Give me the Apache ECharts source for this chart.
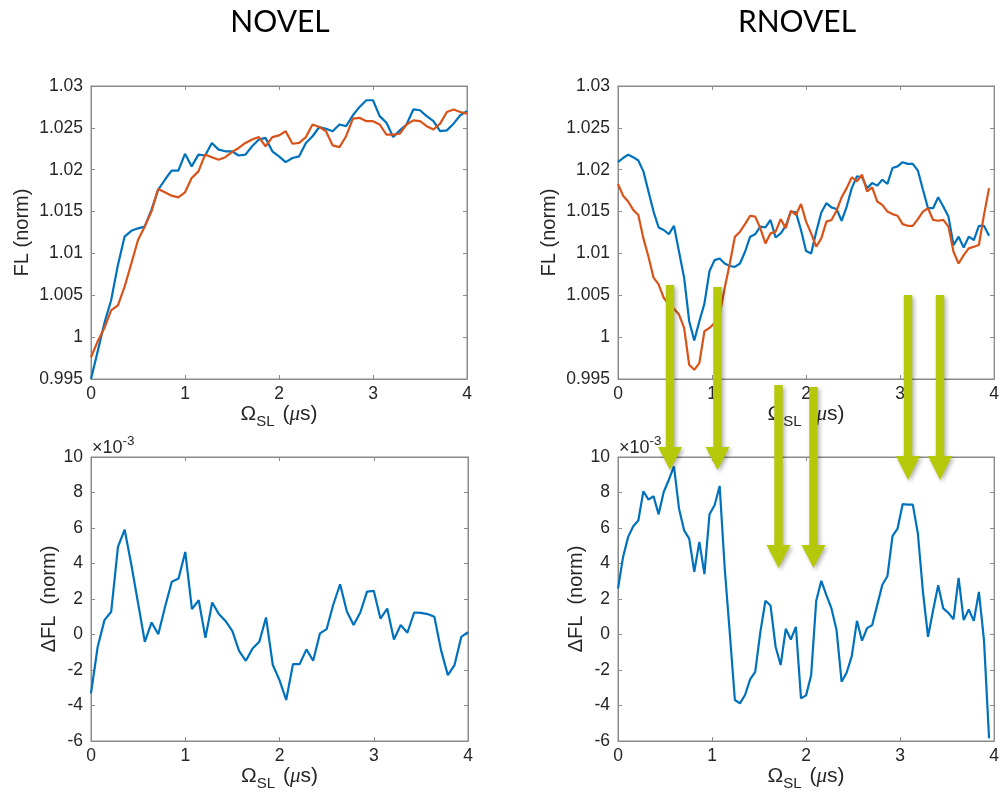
<!DOCTYPE html>
<html><head><meta charset="utf-8">
<script src="https://cdn.jsdelivr.net/npm/echarts@6/dist/echarts.min.js"></script>
<style>html,body{margin:0;padding:0;background:#fff}#c{width:1002px;height:794px}</style>
</head><body><div id="c"></div><script>
// ---- data ----
const titles = ['NOVEL', 'RNOVEL'];
const xNovel = [0,0.071,0.143,0.214,0.286,0.357,0.429,0.5,0.571,0.643,0.714,0.786,0.857,0.929,1,1.071,1.143,1.214,1.286,1.357,1.429,1.5,1.571,1.643,1.714,1.786,1.857,1.929,2,2.071,2.143,2.214,2.286,2.357,2.429,2.5,2.571,2.643,2.714,2.786,2.857,2.929,3,3.071,3.143,3.214,3.286,3.357,3.429,3.5,3.571,3.643,3.714,3.786,3.857,3.929,4];
const xRnovel = [0,0.054,0.108,0.162,0.216,0.270,0.324,0.378,0.432,0.486,0.541,0.595,0.649,0.703,0.757,0.811,0.865,0.919,0.973,1.027,1.081,1.135,1.189,1.243,1.297,1.351,1.405,1.459,1.514,1.568,1.622,1.676,1.730,1.784,1.838,1.892,1.946,2.000,2.054,2.108,2.162,2.216,2.270,2.324,2.378,2.432,2.486,2.541,2.595,2.649,2.703,2.757,2.811,2.865,2.919,2.973,3.027,3.081,3.135,3.189,3.243,3.297,3.351,3.405,3.459,3.514,3.568,3.622,3.676,3.730,3.784,3.838,3.892,3.946];
const novelBlue = [0.9950,0.9983,1.0017,1.0044,1.0086,1.0120,1.0127,1.0130,1.0132,1.0152,1.0176,1.0188,1.0199,1.0199,1.0219,1.0204,1.0218,1.0217,1.0232,1.0224,1.0222,1.0222,1.0217,1.0218,1.0228,1.0236,1.0238,1.0222,1.0216,1.0209,1.0214,1.0216,1.0232,1.0240,1.0251,1.0249,1.0246,1.0254,1.0252,1.0265,1.0275,1.0283,1.0283,1.0264,1.0256,1.0239,1.0247,1.0254,1.0272,1.0271,1.0264,1.0258,1.0246,1.0247,1.0255,1.0265,1.0270];
const novelOrange = [0.9976,0.9995,1.0011,1.0032,1.0038,1.0060,1.0088,1.0116,1.0132,1.0150,1.0177,1.0173,1.0169,1.0167,1.0173,1.0190,1.0198,1.0218,1.0215,1.0212,1.0215,1.0221,1.0226,1.0232,1.0236,1.0239,1.0228,1.0239,1.0241,1.0246,1.0231,1.0232,1.0239,1.0254,1.0251,1.0246,1.0229,1.0227,1.0240,1.0261,1.0262,1.0258,1.0258,1.0254,1.0242,1.0242,1.0243,1.0254,1.0259,1.0258,1.0252,1.0248,1.0255,1.0269,1.0272,1.0269,1.0267];
const novelDelta = [-3.32,-0.69,0.81,1.28,4.94,5.91,3.90,1.75,-0.41,0.68,0.02,1.56,2.97,3.15,4.65,1.43,1.93,-0.19,1.80,1.15,0.75,0.19,-0.92,-1.48,-0.79,-0.41,0.96,-1.72,-2.57,-3.69,-1.67,-1.67,-0.84,-1.48,0.06,0.30,1.69,2.83,1.31,0.53,1.24,2.42,2.46,0.90,1.46,-0.28,0.53,0.10,1.24,1.22,1.15,1.00,-0.88,-2.29,-1.72,-0.13,0.13];
const rnovelBlue = [1.0209,1.0214,1.0218,1.0215,1.0211,1.0198,1.0174,1.0150,1.0131,1.0128,1.0123,1.0133,1.0102,1.0071,1.0019,0.9996,1.0019,1.0040,1.0079,1.0092,1.0094,1.0088,1.0085,1.0084,1.0088,1.0102,1.0120,1.0123,1.0132,1.0131,1.0140,1.0119,1.0124,1.0133,1.0150,1.0149,1.0128,1.0103,1.0100,1.0126,1.0149,1.0160,1.0155,1.0153,1.0139,1.0156,1.0178,1.0192,1.0191,1.0178,1.0184,1.0181,1.0188,1.0183,1.0202,1.0204,1.0209,1.0207,1.0207,1.0199,1.0176,1.0154,1.0154,1.0167,1.0156,1.0144,1.0110,1.0120,1.0107,1.0120,1.0116,1.0133,1.0133,1.0121];
const rnovelOrange = [1.0183,1.0169,1.0162,1.0152,1.0146,1.0118,1.0096,1.0071,1.0063,1.0047,1.0039,1.0034,1.0027,1.0011,0.9967,0.9961,0.9969,1.0007,1.0011,1.0017,1.0027,1.0059,1.0088,1.0120,1.0126,1.0135,1.0145,1.0144,1.0130,1.0112,1.0124,1.0126,1.0141,1.0130,1.0151,1.0146,1.0159,1.0138,1.0124,1.0108,1.0118,1.0138,1.0140,1.0151,1.0167,1.0178,1.0191,1.0186,1.0194,1.0174,1.0179,1.0162,1.0158,1.0150,1.0147,1.0145,1.0135,1.0133,1.0133,1.0141,1.0150,1.0154,1.0140,1.0139,1.0140,1.0132,1.0102,1.0088,1.0098,1.0106,1.0108,1.0110,1.0146,1.0178];
const rnovelDelta = [2.59,4.37,5.50,6.10,6.42,8.07,7.60,7.79,6.77,8.03,8.72,9.47,7.09,5.87,5.40,3.53,5.22,3.40,6.77,7.28,8.37,3.72,0.06,-3.69,-3.88,-3.41,-2.53,-2.10,0.15,1.90,1.63,-0.69,-1.72,0.32,-0.28,0.43,-3.60,-3.43,-2.29,1.90,3.02,2.22,1.47,0.25,-2.66,-2.14,-1.22,0.77,-0.35,0.36,0.53,1.67,2.80,3.28,5.54,5.97,7.34,7.32,7.32,5.69,2.40,-0.13,1.37,2.78,1.47,1.22,0.86,3.19,0.81,1.41,0.77,2.40,-0.32,-5.85];
const flAxis = {min: 0.995, max: 1.03, interval: 0.005};
const deltaAxis = {min: -6, max: 10, interval: 2};
const xAxisRange = {min: 0, max: 4, interval: 1};
const flName = 'FL (norm)';
const deltaName = '\u0394FL  (norm)';
const deltaExp = '-3';

// ---- styles ----
const BLUE = '#0072BD', ORANGE = '#D95319', AX = '#8a8a8a', TXT = '#262626';
const FONT = 'Liberation Sans';
const ARROW = '#b5c80a';

const panels = [
  {grid: {left: 91, top: 86, width: 376, height: 293}, kind: 'fl', x: xNovel, ys: [novelBlue, novelOrange]},
  {grid: {left: 618, top: 86, width: 377, height: 293}, kind: 'fl', x: xRnovel, ys: [rnovelBlue, rnovelOrange]},
  {grid: {left: 91, top: 457, width: 377, height: 284}, kind: 'd', x: xNovel, ys: [novelDelta]},
  {grid: {left: 618, top: 457, width: 377, height: 284}, kind: 'd', x: xRnovel, ys: [rnovelDelta]}
];

const grids = [], xAxes = [], yAxes = [], series = [];
const tick = {show: true, inside: true, length: 4, lineStyle: {color: AX, width: 1}};
const line = {show: true, onZero: false, lineStyle: {color: AX, width: 1}};
const xName = '{o|\u03A9}{s|SL}{p| (}{m|\u03BC}{p|s)}';
const xRich = {
  o: {fontSize: 21, fontFamily: FONT, color: TXT},
  s: {fontSize: 15, fontFamily: FONT, color: TXT, padding: [14, 2, 0, 0]},
  p: {fontSize: 21, fontFamily: FONT, color: TXT},
  m: {fontSize: 21, fontFamily: 'Liberation Serif', fontStyle: 'italic', color: TXT}
};

panels.forEach((p, i) => {
  grids.push(Object.assign({show: true, borderColor: AX, borderWidth: 1, backgroundColor: '#fff'}, p.grid));
  const yr = p.kind === 'fl' ? flAxis : deltaAxis;
  xAxes.push(Object.assign({
    type: 'value', gridIndex: i, position: 'bottom',
    axisLine: line, axisTick: tick, splitLine: {show: false},
    axisLabel: {color: TXT, fontSize: 17.5, fontFamily: FONT, margin: 6},
    name: xName, nameLocation: 'middle', nameGap: 19,
    nameTextStyle: {rich: xRich, color: TXT}
  }, xAxisRange));
  xAxes.push(Object.assign({
    type: 'value', gridIndex: i, position: 'top',
    axisLine: line, axisTick: tick, splitLine: {show: false}, axisLabel: {show: false}
  }, xAxisRange));
  yAxes.push(Object.assign({
    type: 'value', gridIndex: i, position: 'left',
    axisLine: line, axisTick: tick, splitLine: {show: false},
    axisLabel: {color: TXT, fontSize: 17.5, fontFamily: FONT, margin: 8,
      formatter: v => String(+(+v).toFixed(3))},
    name: p.kind === 'fl' ? flName : deltaName, nameLocation: 'middle',
    nameGap: p.kind === 'fl' ? 59 : 29,
    nameTextStyle: {color: TXT, fontSize: 20, fontFamily: FONT}
  }, yr));
  yAxes.push(Object.assign({
    type: 'value', gridIndex: i, position: 'right',
    axisLine: line, axisTick: tick, splitLine: {show: false}, axisLabel: {show: false}
  }, yr));
  p.ys.forEach((arr, k) => {
    series.push({
      type: 'line', xAxisIndex: 2 * i, yAxisIndex: 2 * i,
      data: p.x.map((xv, j) => [xv, arr[j]]),
      showSymbol: false, symbol: 'none', clip: true,
      lineStyle: {width: 2.2, color: k === 0 ? BLUE : ORANGE},
      itemStyle: {color: k === 0 ? BLUE : ORANGE},
      z: 3 + k, animation: false
    });
  });
});

// annotation arrows (pixel positions on the page): centerX, top, headTop, tip
const arrows = [[670, 285, 447, 470], [717.5, 287, 447, 470], [778.5, 385, 545, 568],
                [813.5, 387, 545, 568], [908, 295, 456, 480], [940, 295, 456, 480]];
const graphics = [];
arrows.forEach(a => {
  const [cx, t, h, tip] = a, sw = 4.2, hw = 12;
  graphics.push({
    type: 'polygon', z: 100,
    shape: {points: [[cx - sw, t], [cx + sw, t], [cx + sw, h], [cx + hw, h], [cx, tip], [cx - hw, h], [cx - sw, h]]},
    style: {fill: ARROW, shadowBlur: 4, shadowOffsetX: 2, shadowOffsetY: 2, shadowColor: 'rgba(0,0,0,0.3)'}
  });
});
[[280, titles[0]], [797, titles[1]]].forEach(t => {
  graphics.push({type: 'text', z: 50, x: t[0], y: 22,
    style: {text: t[1], fill: '#000', font: '30px Lato', align: 'center', verticalAlign: 'middle'}});
});
[92, 619].forEach(lx => {
  graphics.push({type: 'text', z: 50, x: lx, y: 448,
    style: {text: '{a|\u00D710}{b|' + deltaExp + '}', verticalAlign: 'middle', align: 'left',
      rich: {a: {fontSize: 18, fontFamily: FONT, fill: TXT},
             b: {fontSize: 13.5, fontFamily: FONT, fill: TXT, padding: [0, 0, 13, 0]}}}});
});

const chart = echarts.init(document.getElementById('c'), null, {renderer: 'canvas'});
chart.setOption({
  animation: false, backgroundColor: '#fff',
  grid: grids, xAxis: xAxes, yAxis: yAxes, series: series, graphic: graphics
});
</script></body></html>
